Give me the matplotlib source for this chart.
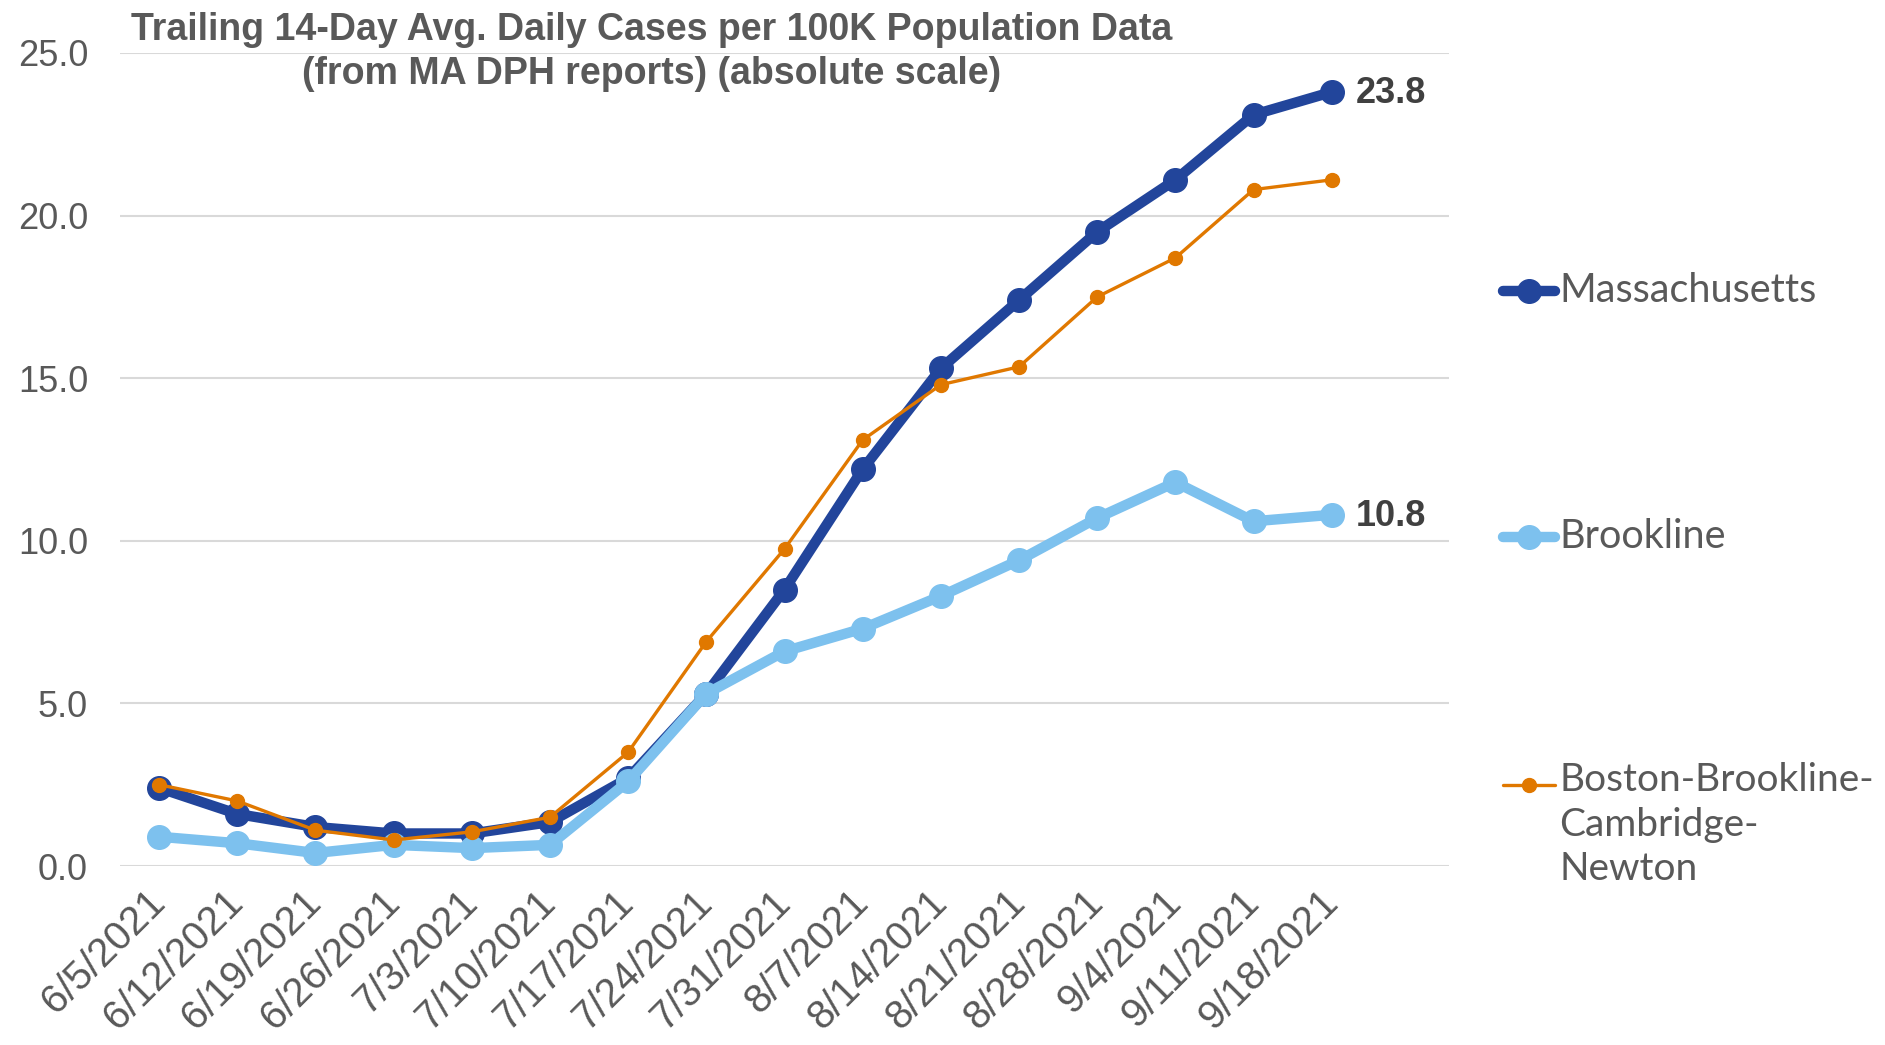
import matplotlib
matplotlib.use("Agg")
import matplotlib.pyplot as plt
from matplotlib.lines import Line2D
from matplotlib import font_manager as fm

names = {f.name for f in fm.fontManager.ttflist}
narrow = "Liberation Sans Narrow" if "Liberation Sans Narrow" in names else "Liberation Sans"
regular = "Lato" if "Lato" in names else "DejaVu Sans"

dates = ["6/5/2021", "6/12/2021", "6/19/2021", "6/26/2021", "7/3/2021", "7/10/2021",
         "7/17/2021", "7/24/2021", "7/31/2021", "8/7/2021", "8/14/2021", "8/21/2021",
         "8/28/2021", "9/4/2021", "9/11/2021", "9/18/2021"]
massachusetts = [2.4, 1.6, 1.2, 1.0, 1.0, 1.35, 2.7, 5.3, 8.5, 12.2, 15.3, 17.4,
                 19.5, 21.1, 23.1, 23.8]
brookline = [0.9, 0.7, 0.4, 0.65, 0.55, 0.65, 2.6, 5.3, 6.6, 7.3, 8.3, 9.4,
             10.7, 11.8, 10.6, 10.8]
bbcn = [2.5, 2.0, 1.1, 0.8, 1.05, 1.5, 3.5, 6.9, 9.75, 13.1, 14.8, 15.35,
        17.5, 18.7, 20.8, 21.1]
series_names = ["Massachusetts", "Brookline", "Boston-Brookline-\nCambridge-\nNewton"]
colors = ["#22459B", "#7DC1EE", "#E07800"]
yticks = [0, 5, 10, 15, 20, 25]
title = "Trailing 14-Day Avg. Daily Cases per 100K Population Data\n(from MA DPH reports) (absolute scale)"

W, H = 1885, 1045
fig = plt.figure(figsize=(W / 100, H / 100), dpi=100)
ax = fig.add_axes([120 / W, 1 - 866 / H, (1449 - 120) / W, (866 - 53) / H])

x = list(range(len(dates)))
styles = [dict(lw=7.5, ms=17), dict(lw=7.5, ms=17), dict(lw=2.4, ms=10)]
for vals, c, st in zip([massachusetts, brookline, bbcn], colors, styles):
    ax.plot(x, vals, color=c, lw=st["lw"], marker="o", ms=st["ms"],
            solid_capstyle="round", solid_joinstyle="round", zorder=3)

ax.set_xlim(-0.5, len(dates) + 0.5)
ax.set_ylim(0, 25)
ax.set_yticks(yticks)
ax.set_yticklabels([f"{v:.1f}" for v in yticks], fontsize=26, color="#595959", family=narrow)
ax.set_xticks(x)
ax.set_xticklabels(dates, rotation=45, ha="right", va="center", rotation_mode="anchor",
                   fontsize=29, color="#595959", family=narrow)
ax.tick_params(axis="both", length=0)
ax.tick_params(axis="y", pad=23)
ax.tick_params(axis="x", pad=22)
for s in ax.spines.values():
    s.set_visible(False)
ax.grid(axis="y", color="#D9D9D9", lw=1.5)
ax.set_axisbelow(True)

# data labels
for vals in (massachusetts, brookline):
    ax.annotate(f"{vals[-1]:.1f}", (x[-1], vals[-1]), xytext=(17, -1),
                textcoords="offset points", va="center", ha="left", fontsize=26,
                fontweight="bold", color="#404040", family=narrow)

fig.text(652 / W, 1 - 52 / H, title, ha="center", va="center", fontsize=27,
         fontweight="bold", color="#595959", family=narrow, linespacing=1.3)

# legend
leg_y = [291, 537, 785]
for yy, c, st, nm in zip(leg_y, colors, styles, series_names):
    yf = 1 - yy / H
    fig.add_artist(Line2D([1503 / W, 1555 / W], [yf, yf], transform=fig.transFigure,
                          color=c, lw=st["lw"], solid_capstyle="round"))
    fig.add_artist(Line2D([1529 / W], [yf], transform=fig.transFigure, color=c,
                          marker="o", ms=st["ms"], lw=0))
    if "\n" in nm:
        fig.text(1559 / W, 1 - (yy - 23) / H, nm, ha="left", va="top", fontsize=28,
                 color="#595959", family=regular, linespacing=1.3)
    else:
        fig.text(1559 / W, yf, nm, ha="left", va="center", fontsize=28.5,
                 color="#595959", family=regular)

fig.savefig("out.png", dpi=100)
